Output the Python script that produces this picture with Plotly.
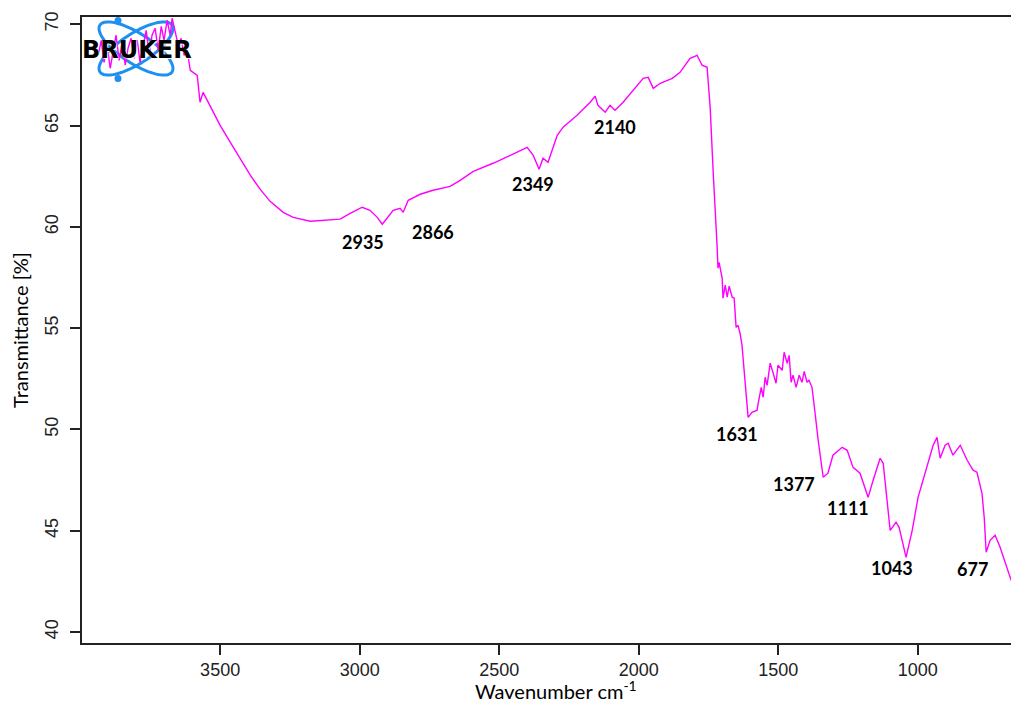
import numpy as np
import plotly.graph_objects as go

# ---- spectrum values (wavenumber cm-1, transmittance %) ----
wavenumber = [3937, 3926, 3916, 3905, 3894, 3883, 3873, 3862, 3851, 3840, 3830, 3819, 3808, 3797,
              3787, 3776, 3765, 3754, 3744, 3733, 3722, 3711, 3701, 3690, 3679, 3672, 3661, 3650,
              3640, 3629, 3618, 3607, 3582, 3572, 3561, 3525, 3500, 3464, 3428, 3392, 3357, 3321,
              3274, 3238, 3177, 3117, 3070, 3034, 2991, 2963, 2937, 2919, 2902, 2880, 2855, 2844,
              2826, 2783, 2737, 2676, 2640, 2593, 2522, 2497, 2400, 2378, 2357, 2343, 2325, 2292,
              2271, 2221, 2174, 2156, 2146, 2120, 2103, 2085, 2056, 2020, 1984, 1966, 1948, 1923,
              1880, 1852, 1816, 1791, 1773, 1755, 1744, 1733, 1726, 1719, 1716, 1712, 1701, 1698,
              1690, 1683, 1676, 1665, 1658, 1651, 1644, 1637, 1630, 1619, 1608, 1594, 1576, 1572,
              1561, 1554, 1547, 1540, 1529, 1518, 1508, 1501, 1486, 1479, 1468, 1461, 1454, 1447,
              1436, 1425, 1415, 1407, 1397, 1390, 1379, 1368, 1357, 1339, 1322, 1304, 1271, 1253,
              1232, 1207, 1189, 1178, 1160, 1135, 1124, 1099, 1078, 1067, 1042, 1020, 999, 967,
              945, 931, 920, 902, 891, 874, 848, 823, 802, 788, 770, 762, 755, 741, 723, 705, 687,
              669, 651, 637]
transmittance = [68.47, 69.21, 68.12, 68.96, 67.83, 68.72, 69.46, 68.22, 69.11, 67.98, 68.82, 69.31,
                 68.32, 69.21, 68.12, 68.96, 69.70, 68.47, 69.46, 69.80, 68.72, 69.90, 69.21, 70.20,
                 69.46, 70.30, 69.70, 68.96, 69.31, 68.47, 68.72, 67.73, 67.48, 66.15, 66.64, 65.66,
                 65.01, 64.18, 63.39, 62.55, 61.86, 61.26, 60.72, 60.47, 60.28, 60.33, 60.38, 60.67,
                 60.97, 60.82, 60.47, 60.13, 60.42, 60.82, 60.92, 60.72, 61.31, 61.61, 61.81, 62.00,
                 62.30, 62.74, 63.14, 63.29, 63.93, 63.53, 62.84, 63.39, 63.19, 64.52, 64.92, 65.51,
                 66.15, 66.45, 66.00, 65.66, 66.00, 65.76, 66.15, 66.74, 67.33, 67.38, 66.84, 67.09,
                 67.33, 67.63, 68.32, 68.47, 67.98, 67.88, 65.90, 62.65, 61.07, 59.00, 57.96, 58.25,
                 57.46, 56.48, 57.12, 56.53, 57.07, 56.53, 56.48, 55.04, 55.14, 54.75, 54.16, 52.28,
                 50.60, 50.85, 50.95, 51.29, 52.08, 51.59, 52.58, 52.18, 53.27, 52.77, 52.28, 53.17,
                 52.92, 53.81, 53.27, 53.66, 52.33, 52.68, 52.08, 52.68, 52.33, 52.87, 52.33, 52.43,
                 52.08, 50.80, 49.47, 47.64, 47.84, 48.73, 49.12, 48.97, 48.13, 47.84, 47.15, 46.65,
                 47.49, 48.58, 48.33, 45.02, 45.42, 45.17, 43.69, 45.02, 46.65, 48.13, 49.22, 49.61,
                 48.58, 49.22, 49.32, 48.73, 49.22, 48.48, 47.99, 47.89, 46.85, 45.67, 43.94, 44.53,
                 44.78, 44.19, 43.40, 42.70, 42.06, 41.22]

# peak labels and where they are written (label x, label y)
peak_labels = ["2935", "2866", "2349", "2140", "1631", "1377", "1111", "1043", "677"]
peak_label_x = [2988, 2737, 2378, 2085, 1648, 1443, 1251, 1093, 805]
peak_label_y = [59.24, 59.73, 62.10, 64.92, 49.76, 47.30, 46.11, 43.15, 43.10]

x_ticks = [3500, 3000, 2500, 2000, 1500, 1000]
y_ticks = [40, 45, 50, 55, 60, 65, 70]

AXIS_COLOR = "#222222"
fig = go.Figure()

fig.add_trace(go.Scatter(
    x=wavenumber, y=transmittance, mode="lines",
    line=dict(color="#FF00FF", width=1.4), showlegend=False, hoverinfo="skip",
))

for lab, lx, ly in zip(peak_labels, peak_label_x, peak_label_y):
    fig.add_annotation(x=lx, y=ly, text=lab, showarrow=False,
                       font=dict(family="Lato", size=18, color="black", weight="bold"))

# ---- Bruker logo (decoration) drawn in overlay pixel coordinates ----
def ellipse_path(cx, cy, a, b, ang_deg, n=80):
    t = np.linspace(0, 2 * np.pi, n)
    ang = np.deg2rad(ang_deg)
    xs = cx + a * np.cos(t) * np.cos(ang) - b * np.sin(t) * np.sin(ang)
    ys = cy + a * np.cos(t) * np.sin(ang) + b * np.sin(t) * np.cos(ang)
    return "M " + " L ".join(f"{x:.2f},{y:.2f}" for x, y in zip(xs, ys)) + " Z"

LOGO_BLUE = "#1E90F0"
for ang in (33, -33):
    fig.add_shape(type="path", path=ellipse_path(136, 48.5, 43, 15, ang),
                  xref="x2", yref="y2", line=dict(color=LOGO_BLUE, width=3), layer="below")
for (dx, dy) in [(118, 20.5), (118, 78.5)]:
    fig.add_shape(type="circle", xref="x2", yref="y2", x0=dx - 3.5, x1=dx + 3.5,
                  y0=dy - 3.5, y1=dy + 3.5, fillcolor=LOGO_BLUE, line=dict(width=0), layer="below")
fig.add_annotation(x=137, y=50, xref="x2", yref="y2", text="BRUKER", showarrow=False,
                   font=dict(family="DejaVu Sans", size=24, color="black", weight="bold",
                             shadow="1px 1px 1px white"))

# x-axis title placed as an annotation at the bottom of the figure
fig.add_annotation(x=0.51, y=-0.097, xref="paper", yref="paper", yanchor="bottom",
                   text="Wavenumber cm<sup>-1</sup>", showarrow=False, borderpad=0,
                   font=dict(family="Lato", size=20, color="black"))

# the page body has an 8px margin: figure sized so the plot lands where the reference has it
fig.update_layout(
    width=1003, height=697,
    margin=dict(l=74, r=0, t=9, b=62),
    paper_bgcolor="white", plot_bgcolor="white",
    font=dict(family="Liberation Sans", color=AXIS_COLOR),
    xaxis=dict(
        range=[3995, 666], tickvals=x_ticks, ticktext=[str(v) for v in x_ticks],
        ticks="outside", ticklen=10, tickwidth=1.5, tickcolor=AXIS_COLOR, automargin=False,
        showline=True, linecolor=AXIS_COLOR, linewidth=1.5, mirror=True,
        showgrid=False, zeroline=False, tickfont=dict(size=18, color=AXIS_COLOR),
    ),
    yaxis=dict(
        range=[39.46, 70.36], tickvals=y_ticks, ticktext=[str(v) for v in y_ticks],
        ticks="outside", ticklen=10, tickwidth=1.5, tickcolor=AXIS_COLOR, tickangle=-90,
        ticklabelstandoff=5, automargin=False,
        showline=True, linecolor=AXIS_COLOR, linewidth=1.5, mirror=False,
        showgrid=False, zeroline=False, tickfont=dict(size=18, color=AXIS_COLOR),
        title=dict(text="Transmittance [%]", standoff=12,
                   font=dict(family="Lato", size=20, color="black")),
    ),
    xaxis2=dict(overlaying="x", range=[82, 1011], visible=False, fixedrange=True,
                automargin=False),
    yaxis2=dict(overlaying="y", range=[643, 17], visible=False, fixedrange=True,
                automargin=False),
)

fig.write_html("out.html")
